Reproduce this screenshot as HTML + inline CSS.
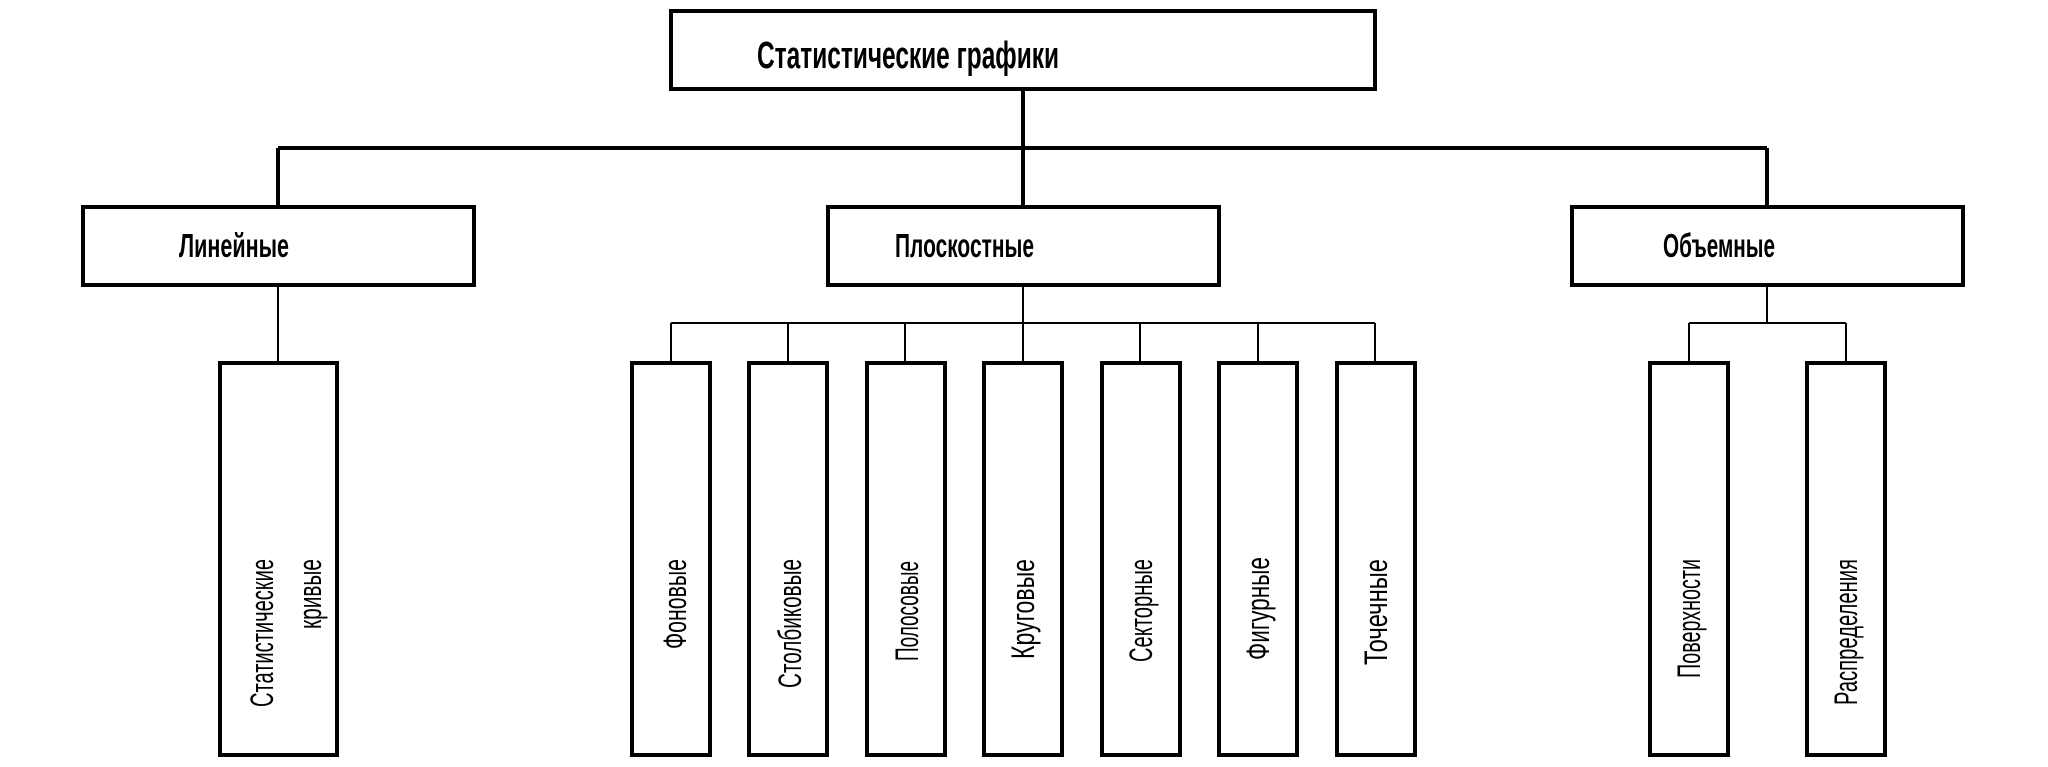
<!DOCTYPE html>
<html><head><meta charset="utf-8"><style>html,body{margin:0;padding:0;background:#fff}svg{display:block}</style></head>
<body>
<svg width="2048" height="767" viewBox="0 0 2048 767" xmlns="http://www.w3.org/2000/svg" font-family="'Liberation Sans Narrow','Liberation Sans',sans-serif">
<g fill="none" stroke="#000">
<rect x="671" y="11" width="704" height="78" stroke-width="4"/>
<path d="M1023 89V206M278 148H1767M278 148V206M1767 148V206" stroke-width="4"/>
<rect x="83" y="207" width="391" height="78" stroke-width="4"/>
<rect x="828" y="207" width="391" height="78" stroke-width="4"/>
<rect x="1572" y="207" width="391" height="78" stroke-width="4"/>
<path d="M278 285V362M1023 285V362M671 323H1375M671 323V362M788 323V362M905 323V362M1140 323V362M1258 323V362M1375 323V362M1767 285V323M1689 323H1846M1689 323V362M1846 323V362" stroke-width="2"/>
<g stroke-width="4">
<rect x="220" y="363" width="117" height="392"/>
<rect x="632" y="363" width="78" height="392"/>
<rect x="749" y="363" width="78" height="392"/>
<rect x="867" y="363" width="78" height="392"/>
<rect x="984" y="363" width="78" height="392"/>
<rect x="1102" y="363" width="78" height="392"/>
<rect x="1219" y="363" width="78" height="392"/>
<rect x="1337" y="363" width="78" height="392"/>
<rect x="1650" y="363" width="78" height="392"/>
<rect x="1807" y="363" width="78" height="392"/>
</g>
</g>
<g fill="#000" font-weight="bold" font-size="38">
<text x="757" y="68" textLength="302" lengthAdjust="spacingAndGlyphs">Статистические графики</text>
<text x="179" y="257" font-size="33" textLength="110" lengthAdjust="spacingAndGlyphs">Линейные</text>
<text x="895" y="257" font-size="33" textLength="139" lengthAdjust="spacingAndGlyphs">Плоскостные</text>
<text x="1663" y="257" font-size="33" textLength="112" lengthAdjust="spacingAndGlyphs">Объемные</text>
</g>
<g fill="#000" font-size="32" text-anchor="end" dominant-baseline="central">
<text transform="translate(262,559) rotate(-90)" textLength="148" lengthAdjust="spacingAndGlyphs">Статистические</text>
<text transform="translate(310,559) rotate(-90)" textLength="70" lengthAdjust="spacingAndGlyphs">кривые</text>
<text transform="translate(675,559) rotate(-90)" textLength="90" lengthAdjust="spacingAndGlyphs">Фоновые</text>
<text transform="translate(790,559) rotate(-90)" textLength="129" lengthAdjust="spacingAndGlyphs">Столбиковые</text>
<text transform="translate(907,561) rotate(-90)" textLength="100" lengthAdjust="spacingAndGlyphs">Полосовые</text>
<text transform="translate(1023,559) rotate(-90)" textLength="100" lengthAdjust="spacingAndGlyphs">Круговые</text>
<text transform="translate(1141,559) rotate(-90)" textLength="103" lengthAdjust="spacingAndGlyphs">Секторные</text>
<text transform="translate(1258,557) rotate(-90)" textLength="103" lengthAdjust="spacingAndGlyphs">Фигурные</text>
<text transform="translate(1376,559) rotate(-90)" textLength="106" lengthAdjust="spacingAndGlyphs">Точечные</text>
<text transform="translate(1689,559) rotate(-90)" textLength="119" lengthAdjust="spacingAndGlyphs">Поверхности</text>
<text transform="translate(1846,559) rotate(-90)" textLength="146" lengthAdjust="spacingAndGlyphs">Распределения</text>
</g>
</svg>
</body></html>
